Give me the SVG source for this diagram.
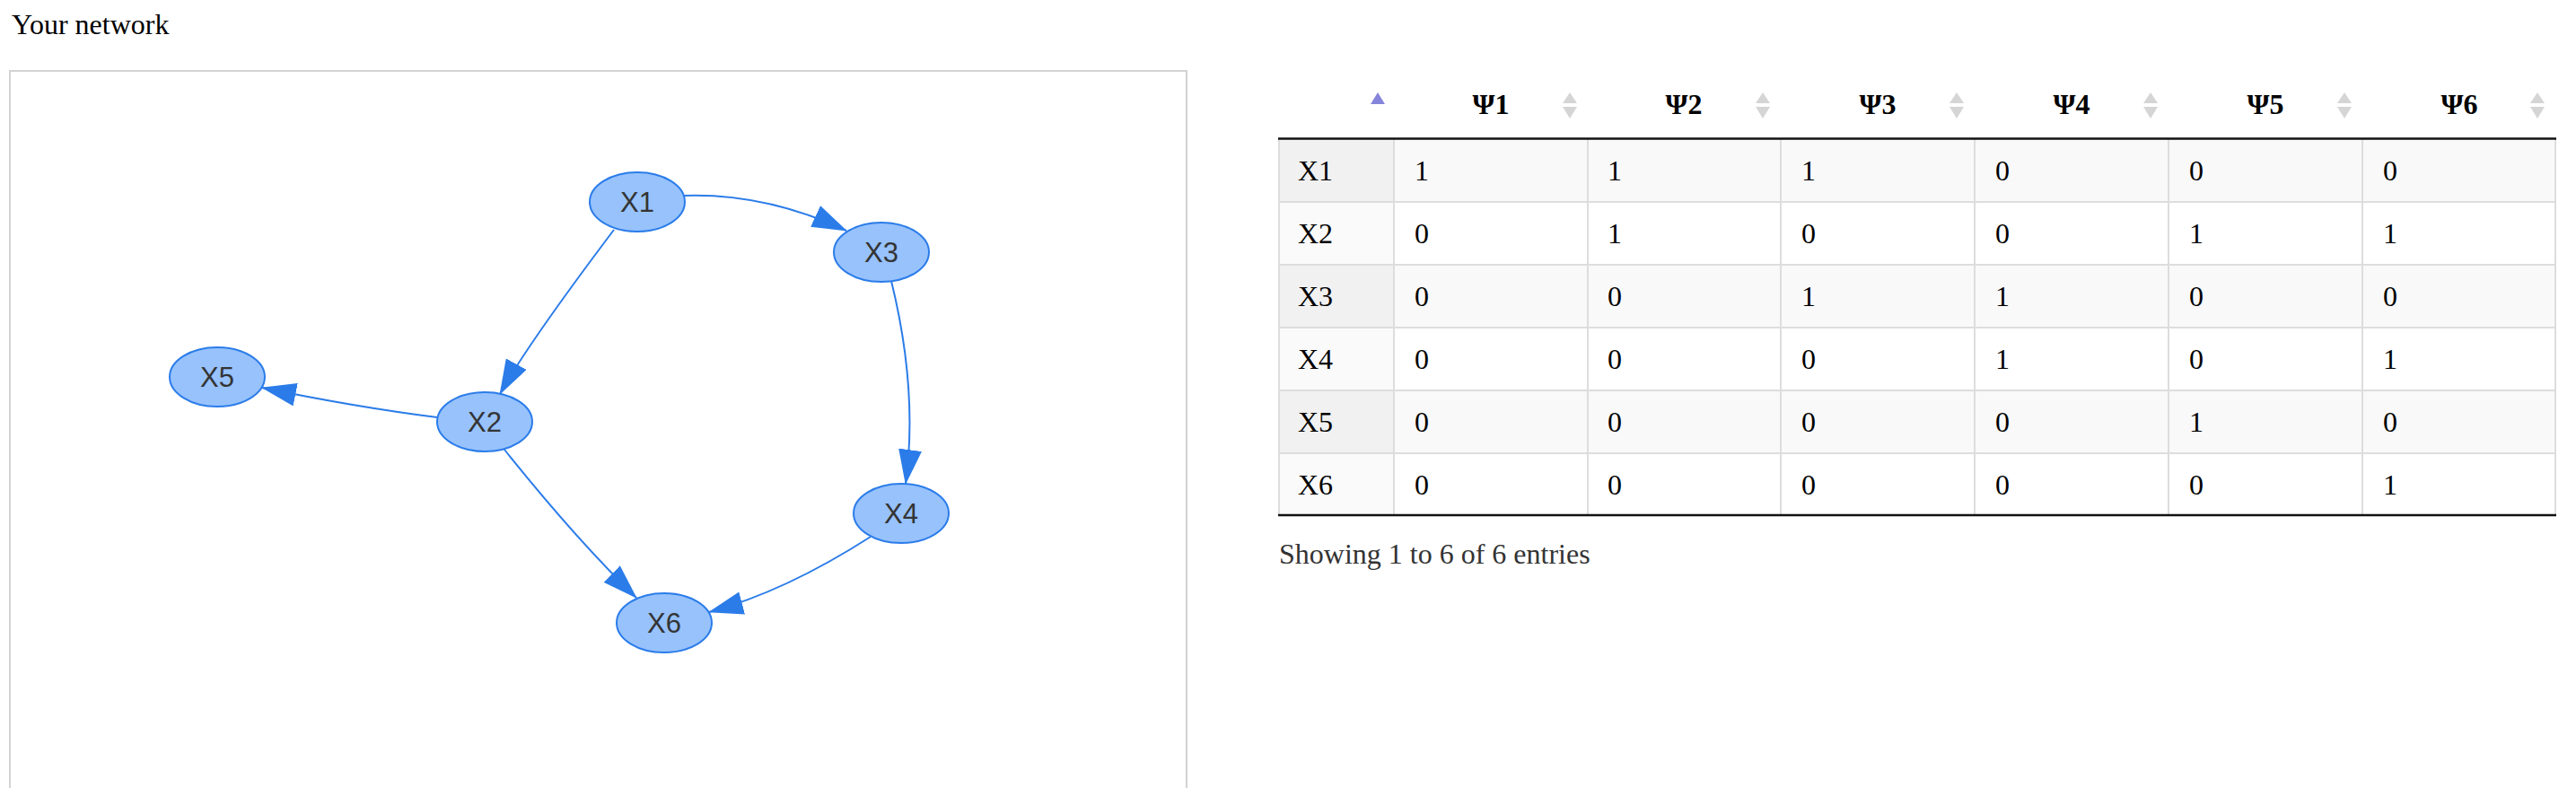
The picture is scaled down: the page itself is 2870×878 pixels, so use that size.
<svg xmlns="http://www.w3.org/2000/svg" width="2870" height="878" viewBox="0 0 2870 878">
<style>
.node ellipse{fill:#97c2fc;stroke:#2b7ce9;stroke-width:2}
.node text{font-family:"Liberation Sans",Arial,sans-serif;font-size:31px;fill:#343434;text-anchor:middle}
.edge{fill:none;stroke:#2b7ce9;stroke-width:2;marker-end:url(#arr)}
.serif{font-family:"Liberation Serif","Times New Roman",serif;font-size:32px}
.th{font-family:"Liberation Serif","Times New Roman",serif;font-size:32px;font-weight:bold;text-anchor:middle}
.grid{stroke:#dddddd;stroke-width:2}
.thick{stroke:#111111;stroke-width:2.5}
.sortb{fill:#d5d5d5}
</style>
<defs>
<marker id="arr" markerUnits="userSpaceOnUse" viewBox="0 0 39 26" refX="38" refY="13" markerWidth="39" markerHeight="26" orient="auto">
<path d="M0,0 L39,13 L0,26 Z" fill="#2b7ce9"/>
</marker>
</defs>
<rect width="2870" height="878" fill="#ffffff"/>
<text class="serif" x="13" y="38" fill="#000">Your network</text>
<rect x="11" y="79" width="1311" height="820" fill="#ffffff" stroke="#d3d3d3" stroke-width="2"/>

<g id="connectors">
<path class="edge" d="M762,218 Q853,215 943,257"/>
<path class="edge" d="M684,256 Q586,386 557,439"/>
<path class="edge" d="M487,465 Q399,454 292,432"/>
<path class="edge" d="M562,501 Q642,601 709,666"/>
<path class="edge" d="M993,313 Q1023,435 1009,539"/>
<path class="edge" d="M970,598 Q875,659 790,682"/>
</g>

<g id="X1" class="node"><ellipse cx="710" cy="225" rx="53" ry="33"/><text x="710" y="236">X1</text></g>
<g id="X3" class="node"><ellipse cx="982" cy="281" rx="53" ry="33"/><text x="982" y="292">X3</text></g>
<g id="X5" class="node"><ellipse cx="242" cy="420" rx="53" ry="33"/><text x="242" y="431">X5</text></g>
<g id="X2" class="node"><ellipse cx="540" cy="470" rx="53" ry="33"/><text x="540" y="481">X2</text></g>
<g id="X4" class="node"><ellipse cx="1004" cy="572" rx="53" ry="33"/><text x="1004" y="583">X4</text></g>
<g id="X6" class="node"><ellipse cx="740" cy="694" rx="53" ry="33"/><text x="740" y="705">X6</text></g>

<g id="table">
<rect x="1425" y="155" width="1422" height="70" fill="#f9f9f9"/>
<rect x="1425" y="155" width="128" height="70" fill="#f1f1f1"/>
<rect x="1425" y="225" width="128" height="70" fill="#fafafa"/>
<rect x="1425" y="295" width="1422" height="70" fill="#f9f9f9"/>
<rect x="1425" y="295" width="128" height="70" fill="#f1f1f1"/>
<rect x="1425" y="365" width="128" height="70" fill="#fafafa"/>
<rect x="1425" y="435" width="1422" height="70" fill="#f9f9f9"/>
<rect x="1425" y="435" width="128" height="70" fill="#f1f1f1"/>
<rect x="1425" y="505" width="128" height="69" fill="#fafafa"/>
<g class="grid">
<line x1="1425" y1="155" x2="1425" y2="574"/>
<line x1="1553" y1="155" x2="1553" y2="574"/>
<line x1="1769" y1="155" x2="1769" y2="574"/>
<line x1="1984" y1="155" x2="1984" y2="574"/>
<line x1="2200" y1="155" x2="2200" y2="574"/>
<line x1="2416" y1="155" x2="2416" y2="574"/>
<line x1="2632" y1="155" x2="2632" y2="574"/>
<line x1="2847" y1="155" x2="2847" y2="574"/>
<line x1="1425" y1="225" x2="2847" y2="225"/>
<line x1="1425" y1="295" x2="2847" y2="295"/>
<line x1="1425" y1="365" x2="2847" y2="365"/>
<line x1="1425" y1="435" x2="2847" y2="435"/>
<line x1="1425" y1="505" x2="2847" y2="505"/>
</g>
<line class="thick" x1="1424" y1="154.5" x2="2848" y2="154.5"/>
<line class="thick" x1="1424" y1="574" x2="2848" y2="574"/>
<polygon points="1527,116 1543,116 1535,103" fill="#8585dc"/>
<text class="th" x="1661" y="127">Ψ1</text>
<text class="th" x="1876" y="127">Ψ2</text>
<text class="th" x="2092" y="127">Ψ3</text>
<text class="th" x="2308" y="127">Ψ4</text>
<text class="th" x="2524" y="127">Ψ5</text>
<text class="th" x="2740" y="127">Ψ6</text>
<g class="sortb">
<polygon points="1741,115 1757,115 1749,103"/><polygon points="1741,119 1757,119 1749,132"/>
<polygon points="1956,115 1972,115 1964,103"/><polygon points="1956,119 1972,119 1964,132"/>
<polygon points="2172,115 2188,115 2180,103"/><polygon points="2172,119 2188,119 2180,132"/>
<polygon points="2388,115 2404,115 2396,103"/><polygon points="2388,119 2404,119 2396,132"/>
<polygon points="2604,115 2620,115 2612,103"/><polygon points="2604,119 2620,119 2612,132"/>
<polygon points="2819,115 2835,115 2827,103"/><polygon points="2819,119 2835,119 2827,132"/>
</g>
<g class="serif" fill="#000">
<text x="1446" y="201">X1</text><text x="1576" y="201">1</text><text x="1791" y="201">1</text><text x="2007" y="201">1</text><text x="2223" y="201">0</text><text x="2439" y="201">0</text><text x="2655" y="201">0</text>
<text x="1446" y="271">X2</text><text x="1576" y="271">0</text><text x="1791" y="271">1</text><text x="2007" y="271">0</text><text x="2223" y="271">0</text><text x="2439" y="271">1</text><text x="2655" y="271">1</text>
<text x="1446" y="341">X3</text><text x="1576" y="341">0</text><text x="1791" y="341">0</text><text x="2007" y="341">1</text><text x="2223" y="341">1</text><text x="2439" y="341">0</text><text x="2655" y="341">0</text>
<text x="1446" y="411">X4</text><text x="1576" y="411">0</text><text x="1791" y="411">0</text><text x="2007" y="411">0</text><text x="2223" y="411">1</text><text x="2439" y="411">0</text><text x="2655" y="411">1</text>
<text x="1446" y="481">X5</text><text x="1576" y="481">0</text><text x="1791" y="481">0</text><text x="2007" y="481">0</text><text x="2223" y="481">0</text><text x="2439" y="481">1</text><text x="2655" y="481">0</text>
<text x="1446" y="551">X6</text><text x="1576" y="551">0</text><text x="1791" y="551">0</text><text x="2007" y="551">0</text><text x="2223" y="551">0</text><text x="2439" y="551">0</text><text x="2655" y="551">1</text>
</g>
<text class="serif" x="1425" y="628" fill="#333333">Showing 1 to 6 of 6 entries</text>
</g>
</svg>
